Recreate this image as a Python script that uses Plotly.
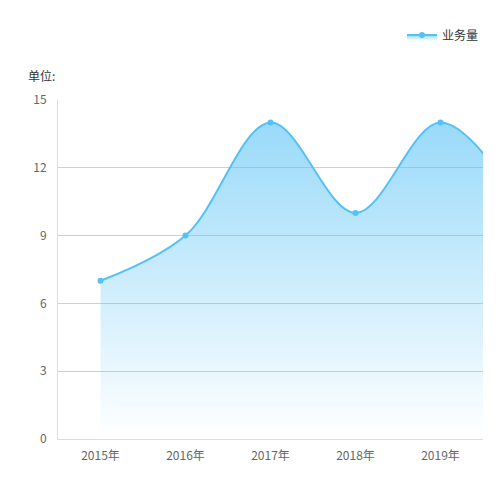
import plotly.graph_objects as go

# data
years = ["2015年", "2016年", "2017年", "2018年", "2019年", "2020年"]
volume = [7, 9, 14, 10, 14, 10]
y_ticks = [0, 3, 6, 9, 12, 15]

line_color = "#56c1f6"
font_family = "Noto Sans CJK SC, Noto Sans, sans-serif"

# the page puts the figure 8px in from the top-left corner,
# so target page pixels are shifted by that offset
off = 8
W = H = 500
left, right, top, bottom = 58 - off, W - (483 - off), 100 - off, H - (439 - off)
pw = W - left - right
ph = H - top - bottom


def px_x(p):
    return (p - off - left) / pw


def px_y(p):
    return (H - bottom - (p - off)) / ph


fig = go.Figure()
fig.add_trace(go.Scatter(
    x=years, y=volume, name="业务量",
    mode="lines+markers",
    line=dict(color=line_color, width=2, shape="spline", smoothing=1.0),
    marker=dict(color=line_color, size=6),
    fill="tozeroy",
    fillgradient=dict(type="vertical",
                      colorscale=[[0, "rgba(86,193,246,0)"],
                                  [1, "rgba(86,193,246,0.6)"]]),
))

fig.update_layout(
    width=W, height=H,
    margin=dict(l=left, r=right, t=top, b=bottom),
    paper_bgcolor="white", plot_bgcolor="white",
    font=dict(family=font_family, size=12, color="#666"),
    showlegend=True,
    legend=dict(x=px_x(484), xanchor="right", y=px_y(35), yanchor="middle",
                font=dict(color="#333", size=12), bgcolor="rgba(0,0,0,0)"),
    xaxis=dict(type="category", range=[-0.5, 4.5], showgrid=False,
               showline=True, linecolor="#ddd", linewidth=1,
               ticks="", tickfont=dict(color="#666"), ticklabelstandoff=6,
               fixedrange=True),
    yaxis=dict(range=[0, 15], tickvals=y_ticks, showgrid=True,
               gridcolor="#cfcfcf", gridwidth=1, zeroline=False,
               showline=True, linecolor="#ddd", linewidth=1,
               ticks="", tickfont=dict(color="#666"), ticklabelstandoff=8,
               fixedrange=True),
    annotations=[dict(text="单位:", xref="paper", yref="paper",
                      x=px_x(26), y=px_y(76), xanchor="left", yanchor="middle",
                      showarrow=False, font=dict(color="#333", size=12))],
)

fig.write_html("out.html")
